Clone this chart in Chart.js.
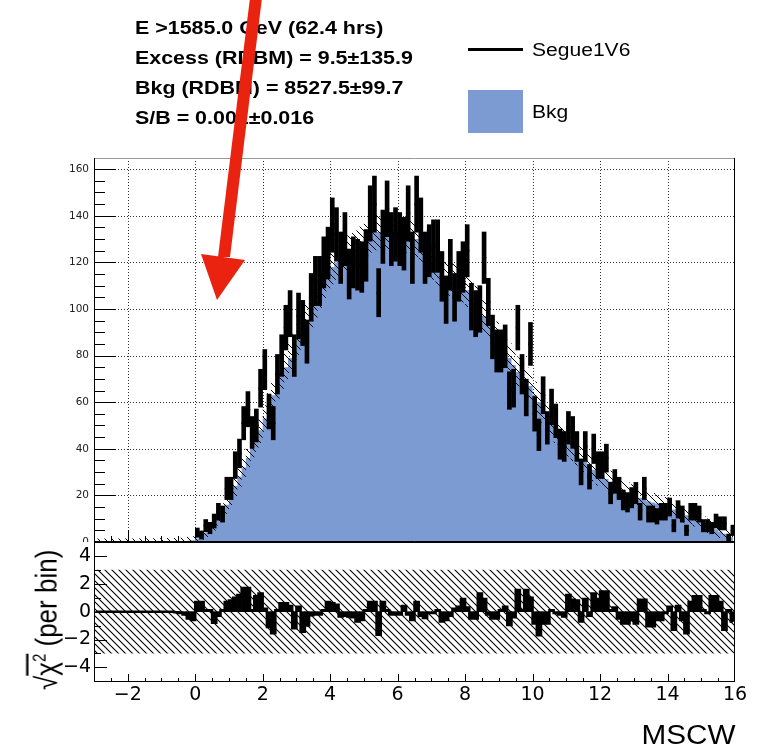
<!DOCTYPE html>
<html>
<head>
<meta charset="utf-8">
<script src="https://cdn.jsdelivr.net/npm/chart.js@4.4.1/dist/chart.umd.min.js"></script>
<style>
    html, body { margin: 0; padding: 0; background: #fff; }
    #page { position: relative; width: 765px; height: 750px; overflow: hidden; font-family: 'Liberation Sans', Arial, sans-serif; }
    #topCanvas { position: absolute; left: 0; top: 0; }
    #botCanvas { position: absolute; left: 0; top: 542px; background: #fff; }
    .txt { position: absolute; white-space: nowrap; line-height: 20px; transform-origin: 0 50%; color: #000; }
    .info { font-weight: bold; font-size: 18px; transform: scaleX(1.19); }
    .leg { font-size: 18px; transform: scaleX(1.17); }
    #ytitle { position: absolute; left: -31px; top: 600px; width: 140px; height: 40px; line-height: 40px; text-align: center;
              font-size: 26px; white-space: nowrap; transform: rotate(-90deg) scaleY(1.17); }
    #xtitle { position: absolute; right: 30px; top: 720px; font-size: 27px; line-height: 30px; transform: scaleX(1.1); transform-origin: 100% 50%; }
    #arrow { position: absolute; left: 0; top: 0; z-index: 5; }
</style>
</head>
<body>
<div id="page">
    <canvas id="topCanvas" width="765" height="543"></canvas>
    <canvas id="botCanvas" width="765" height="208"></canvas>

    <div class="txt info" style="left:135px; top:18px;">E &gt;1585.0 GeV (62.4 hrs)</div>
    <div class="txt info" style="left:135px; top:48px;">Excess (RDBM) = 9.5±135.9</div>
    <div class="txt info" style="left:135px; top:78px;">Bkg (RDBM) = 8527.5±99.7</div>
    <div class="txt info" style="left:135px; top:108px;">S/B = 0.001±0.016</div>

    <div style="position:absolute; left:468px; top:48px; width:55px; height:3px; background:#000;"></div>
    <div class="txt leg" style="left:532px; top:40px;">Segue1V6</div>
    <div style="position:absolute; left:468px; top:90px; width:55px; height:43px; background:#7b9bd2;"></div>
    <div class="txt leg" style="left:532px; top:102px;">Bkg</div>

    <div id="ytitle">√<span style="text-decoration:overline">χ<sup style="font-size:15px">2</sup></span> (per bin)</div>
    <div id="xtitle">MSCW</div>

    <svg id="arrow" width="765" height="320">
        <polygon points="250,-2 262,-2 230,257 218,257" fill="#ea2311"/>
        <polygon points="201,254 245,260 217,300" fill="#ea2311"/>
    </svg>
</div>

<script>
// ============================================================================
// Data (bins of 0.125 in MSCW from -3 to 16)
// ============================================================================
const binStart = -3;
const binWidth = 0.125;

// background model counts per bin
const bkgCounts = [
    0, 0, 0, 0, 0, 0, 0, 0, 0, 0, 0, 0, 0.1, 0.1, 0.1, 0.1, 0.2, 0.2, 0.2, 0.3, 0.3, 0.4, 0.5, 0.7,
    1.5, 2.5, 4, 6, 8, 10.5, 13, 16,
    20, 24, 28, 32, 36, 40, 44, 48,
    53, 58, 63, 67, 71, 75, 79, 83,
    87, 91, 95, 99, 103, 107, 111, 115,
    118, 120, 122, 123, 124, 125, 126, 128,
    130, 132, 133, 133, 133, 133, 133, 133,
    133, 132, 132, 131, 130, 128, 126, 123,
    120, 117, 115, 114, 113, 112, 111, 110,
    108, 106, 103, 100, 97, 94, 91, 88,
    85, 82, 79, 76, 73, 71, 69, 67,
    63, 60, 57, 54, 51, 48, 46, 44,
    42, 40, 38, 36, 35, 33, 31, 29,
    28, 27, 26, 25, 24, 22.5, 21.5, 20.5,
    19.5, 19, 18, 17.5, 17, 16.5, 16, 15.5,
    15, 14, 13, 12, 11.5, 11, 10, 9,
    8, 7, 6, 5.5, 4.5, 3.5, 2.5, 2
];

// half width of the hatched background band
const bkgErr = [
    1.5, 1.5, 1.5, 1.5, 1.5, 1.5, 1.5, 1.5, 1.5, 1.5, 1.5, 1.5, 1.5, 1.5, 1.5, 1.5, 1.5, 1.5, 1.5, 1.5, 1.5, 1.6, 1.7, 1.8,
    2.0, 2.3, 2.6, 2.9, 3.1, 3.4, 3.6, 3.9,
    4.1, 4.3, 4.5, 4.7, 4.9, 5.1, 5.3, 5.5,
    5.7, 5.8, 6.0, 6.1, 6.2, 6.4, 6.5, 6.6,
    6.7, 6.8, 6.9, 7.0, 7.1, 7.2, 7.3, 7.4,
    7.4, 7.5, 7.5, 7.6, 7.6, 7.6, 7.7, 7.7,
    7.8, 7.8, 7.8, 7.8, 7.8, 7.8, 7.8, 7.8,
    7.8, 7.8, 7.8, 7.8, 7.7, 7.7, 7.6, 7.6,
    7.5, 7.5, 7.4, 7.4, 7.3, 7.3, 7.2, 7.2,
    7.1, 7.0, 7.0, 6.9, 6.8, 6.8, 6.7, 6.6,
    6.5, 6.5, 6.4, 6.3, 6.2, 6.2, 6.1, 6.0,
    5.9, 5.8, 5.8, 5.7, 5.6, 5.5, 5.5, 5.4,
    5.3, 5.2, 5.2, 5.1, 5.0, 4.9, 4.9, 4.8,
    4.7, 4.7, 4.6, 4.5, 4.5, 4.4, 4.3, 4.3,
    4.2, 4.2, 4.1, 4.0, 4.0, 3.9, 3.9, 3.8,
    3.7, 3.7, 3.6, 3.6, 3.5, 3.4, 3.4, 3.3,
    3.2, 3.1, 3.0, 2.9, 2.8, 2.7, 2.6, 2.5
];

// Segue1V6 on-source counts per bin
const dataCounts = [
    0, 0, 0, 0, 0, 0, 0, 0, 0, 0, 0, 0, 0, 0, 0, 0, 0, 0, 0, 0, 0, 0, 0, 0,
    4, 3, 7, 6, 9, 13, 12, 23,
    23, 33, 38, 51, 57, 47, 50, 66,
    74, 56, 51, 72, 80, 92, 98, 80,
    97, 94, 86, 105, 112, 112, 120, 124,
    136, 132, 122, 130, 115, 120, 119, 118,
    123, 141, 145, 107, 131, 143, 130, 132,
    130, 128, 141, 122, 145, 136, 122, 125,
    127, 127, 114, 104, 119, 105, 114, 118,
    125, 101, 98, 100, 122, 103, 88, 82,
    82, 84, 65, 66, 92, 72, 62, 85,
    55, 46, 63, 49, 58, 52, 42, 41,
    49, 47, 41, 30, 41, 28, 40, 33,
    33, 36, 21, 26, 23, 18, 17, 19,
    21, 13, 23, 12, 12, 11, 13, 13,
    15, 7, 14, 12, 5, 13, 13, 12,
    7, 7, 6, 9, 8, 8, 2, 5
];

// sqrt(chi2) per bin, lower panel
const residuals = [
    0, 0, 0, 0, 0, 0, 0, 0, 0, 0, 0, 0, 0, 0, 0, 0, 0, 0, 0, -0.05, -0.1, -0.2, -0.5, -0.6,
    0.7, 0.7, 0.1, 0.1, -0.8, -0.3, 0.1, 0.7,
    0.8, 1.0, 1.2, 1.7, 1.7, 0.1, 1.1, 1.3,
    0.2, -1.1, -1.55, 0.1, 0.6, 0.6, 0.4, -1.2,
    0.35, -1.45, -1.0, -0.25, -0.2, -0.2, 0.1, 0.7,
    0.6, 0.5, -0.35, -0.3, -0.35, -0.4, -0.7, -0.6,
    0.1, 0.7, 0.7, -1.65, 0.7, 0.1, -0.2, -0.2,
    -0.2, 0.4, -0.2, -0.6, 0.7, -0.3, -0.45, -0.1,
    -0.1, 0.1, -0.7, -0.6, -0.3, 0.2, 0.35, 0.9,
    0.3, -0.5, -0.5, 1.3, 0.9, -0.2, -0.5, -0.5,
    0.1, 0.35, -0.95, -0.4, 1.55, 0.1, 1.55, 1.0,
    -0.85, -1.7, -0.85, -0.85, 0.1, -0.1, -0.2, -0.35,
    1.2, 0.85, 0.8, -0.7, 0.9, -0.3, 1.3, 0.9,
    1.45, 1.45, 0.1, 0.3, -0.5, -0.85, -0.85, -0.6,
    -0.85, 0.85, 0.85, -1.05, -1.05, -0.6, -0.6, -0.1,
    0.35, -1.3, 0.4, -0.6, -1.55, 0.7, 1.1, 1.1,
    0.1, -0.1, 1.1, 1.1, 0.7, -1.3, 0.1, -0.7
];

const chiBand = [-3, 3];          // hatched +-3 band in the lower panel
const xRange = [-3, 16];
const topYRange = [0, 164.8];
const botYRange = [-5.05, 5];

// ============================================================================
// Helpers
// ============================================================================
const BLUE = '#7b9bd2';
const centers = bkgCounts.map((_, i) => binStart + (i + 0.5) * binWidth);
const pts = (arr) => arr.map((v, i) => ({ x: centers[i], y: v }));

function makeHatch(size, width) {
    const c = document.createElement('canvas');
    c.width = size; c.height = size;
    const g = c.getContext('2d');
    g.strokeStyle = '#000';
    g.lineWidth = width;
    g.beginPath();
    g.moveTo(-1, -1); g.lineTo(size + 1, size + 1);
    g.moveTo(-1, size - 1); g.lineTo(1, size + 1);
    g.moveTo(size - 1, -1); g.lineTo(size + 1, 1);
    g.stroke();
    return g.createPattern(c, 'repeat');
}

function line(ctx, x1, y1, x2, y2) {
    ctx.beginPath();
    ctx.moveTo(x1, y1);
    ctx.lineTo(x2, y2);
    ctx.stroke();
}

// keep the chart area exactly where the frame is
function fixWidth(s) {
    s.width = 94;
    s.paddingTop = 0;
    s.paddingBottom = 0;
}

const minusSign = (v) => String(v).replace('-', '\u2212');

Chart.defaults.font.family = "'DejaVu Sans', sans-serif";
Chart.defaults.color = '#000';

// ============================================================================
// ROOT-like frames, ticks and grid
// ============================================================================
const topFrame = {
    id: 'topFrame',
    beforeDatasetsDraw(chart) {
        const { ctx, chartArea: a, scales: { x, y } } = chart;
        ctx.save();
        // dotted grid
        ctx.strokeStyle = '#333';
        ctx.lineWidth = 1;
        ctx.setLineDash([1, 2]);
        for (let v = -2; v < xRange[1]; v += 2) {
            const px = Math.round(x.getPixelForValue(v)) + 0.5;
            line(ctx, px, a.top, px, a.bottom);
        }
        y.ticks.forEach(t => {
            if (t.value <= 0) return;
            const py = Math.round(y.getPixelForValue(t.value)) + 0.5;
            line(ctx, a.left, py, a.right, py);
        });
        ctx.setLineDash([]);
        // x ticks on the zero line
        ctx.strokeStyle = '#000';
        for (let v = -2.5; v < xRange[1]; v += 0.5) {
            const px = Math.round(x.getPixelForValue(v)) + 0.5;
            const len = (v % 2 === 0) ? 12 : 6;
            line(ctx, px, a.bottom, px, a.bottom - len);
        }
        ctx.restore();
    },
    afterDatasetsDraw(chart) {
        const { ctx, chartArea: a, scales: { y } } = chart;
        ctx.save();
        ctx.lineWidth = 1;
        ctx.strokeStyle = '#999';
        line(ctx, a.left, a.top + 0.5, a.right, a.top + 0.5);
        ctx.strokeStyle = '#000';
        line(ctx, a.left + 0.5, a.top, a.left + 0.5, a.bottom);
        line(ctx, a.right - 0.5, a.top, a.right - 0.5, a.bottom);
        line(ctx, a.left, a.bottom - 0.5, a.right, a.bottom - 0.5);
        for (let v = 0; v <= 160; v += 5) {
            const py = Math.round(y.getPixelForValue(v)) + 0.5;
            const len = (v % 20 === 0) ? 22 : 11;
            line(ctx, a.left, py, a.left + len, py);
        }
        ctx.restore();
    }
};

const botFrame = {
    id: 'botFrame',
    afterDatasetsDraw(chart) {
        const { ctx, chartArea: a, scales: { x, y } } = chart;
        ctx.save();
        ctx.lineWidth = 1;
        ctx.strokeStyle = '#000';
        ctx.strokeRect(a.left + 0.5, a.top + 0.5, a.right - a.left - 1, a.bottom - a.top - 1);
        for (let v = -4; v <= 4; v += 1) {
            const py = Math.round(y.getPixelForValue(v)) + 0.5;
            const len = (v % 2 === 0) ? 13 : 7;
            line(ctx, a.left, py, a.left + len, py);
        }
        for (let v = -2.5; v < xRange[1]; v += 0.5) {
            const px = Math.round(x.getPixelForValue(v)) + 0.5;
            const len = (v % 2 === 0) ? 8 : 4;
            line(ctx, px, a.bottom, px, a.bottom - len);
        }
        ctx.restore();
    }
};

// ============================================================================
// Upper panel: background, band and data
// ============================================================================
const errBars = [];
const markers = [];
dataCounts.forEach((d, i) => {
    if (d <= 0) return;
    const e = Math.sqrt(d);
    errBars.push({ x: centers[i], y: [d - e, d + e] });
    markers.push({ x: centers[i], y: d });
});

new Chart(document.getElementById('topCanvas'), {
    type: 'bar',
    data: {
        datasets: [
            {
                type: 'line', label: 'Bkg', data: pts(bkgCounts), stepped: 'middle',
                fill: 'origin', backgroundColor: BLUE, borderWidth: 0, pointRadius: 0, order: 5
            },
            {
                type: 'line', label: 'band hi', data: pts(bkgCounts.map((b, i) => b + bkgErr[i])), stepped: 'middle',
                fill: false, borderWidth: 0, pointRadius: 0, order: 4
            },
            {
                type: 'line', label: 'band lo', data: pts(bkgCounts.map((b, i) => Math.max(b - bkgErr[i], 0))), stepped: 'middle',
                fill: '-1', backgroundColor: makeHatch(7, 1), borderWidth: 0, pointRadius: 0, order: 3
            },
            {
                type: 'bar', label: 'Segue1V6', data: errBars, backgroundColor: '#000',
                barThickness: 4, grouped: false, order: 2
            },
            {
                type: 'scatter', label: 'markers', data: markers, pointRadius: 2.2,
                backgroundColor: '#000', borderWidth: 0, order: 1
            }
        ]
    },
    options: {
        responsive: false,
        animation: false,
        events: [],
        layout: { autoPadding: false, padding: { top: 158, right: 30, bottom: 1, left: 0 } },
        plugins: { legend: { display: false }, tooltip: { enabled: false } },
        scales: {
            x: { type: 'linear', min: xRange[0], max: xRange[1], offset: false, display: false },
            y: {
                min: topYRange[0], max: topYRange[1],
                grid: { display: false, drawTicks: false },
                border: { display: false },
                ticks: { stepSize: 20, includeBounds: false, padding: 5, color: '#222', font: { size: 10.5 } },
                afterFit: fixWidth
            }
        }
    },
    plugins: [topFrame]
});

// ============================================================================
// Lower panel: sqrt(chi2) per bin
// ============================================================================
new Chart(document.getElementById('botCanvas'), {
    type: 'bar',
    data: {
        datasets: [
            {
                type: 'line', data: [{ x: xRange[0], y: chiBand[1] }, { x: xRange[1], y: chiBand[1] }],
                fill: false, borderWidth: 0, pointRadius: 0, order: 4
            },
            {
                type: 'line', data: [{ x: xRange[0], y: chiBand[0] }, { x: xRange[1], y: chiBand[0] }],
                fill: '-1', backgroundColor: makeHatch(7, 1.1), borderWidth: 0, pointRadius: 0, order: 3
            },
            {
                type: 'bar', data: pts(residuals), backgroundColor: '#000',
                barPercentage: 1, categoryPercentage: 1, borderWidth: 0, grouped: false, order: 2
            },
            {
                type: 'line', data: pts(residuals), stepped: 'middle', borderColor: '#000',
                borderWidth: 2.5, pointRadius: 0, fill: false, order: 1
            }
        ]
    },
    options: {
        responsive: false,
        animation: false,
        events: [],
        layout: { autoPadding: false, padding: { top: 0, right: 30, bottom: 0, left: 0 } },
        plugins: { legend: { display: false }, tooltip: { enabled: false } },
        scales: {
            x: {
                type: 'linear', min: xRange[0], max: xRange[1], offset: false,
                grid: { display: false, drawTicks: false },
                border: { display: false },
                ticks: { stepSize: 2, includeBounds: false, autoSkip: false, maxRotation: 0, padding: 2,
                         font: { size: 19 }, callback: minusSign },
                afterFit(s) { s.height = 68; }
            },
            y: {
                min: botYRange[0], max: botYRange[1],
                grid: { display: false, drawTicks: false },
                border: { display: false },
                ticks: { stepSize: 2, includeBounds: false, padding: 3, font: { size: 19 }, callback: minusSign },
                afterFit: fixWidth
            }
        }
    },
    plugins: [botFrame]
});
</script>
</body>
</html>
